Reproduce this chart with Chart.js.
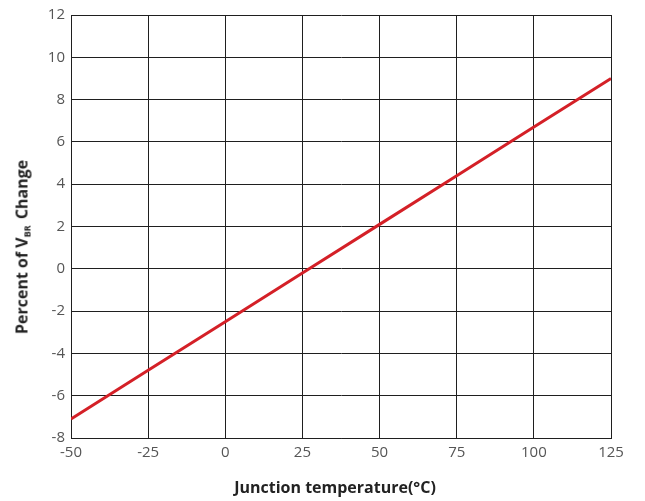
<!DOCTYPE html>
<html>
<head>
<meta charset="utf-8">
<script src="https://cdn.jsdelivr.net/npm/chart.js@4.4.0/dist/chart.umd.min.js"></script>
<style>
  html, body { margin: 0; padding: 0; background: #fff; }
  #wrap { position: relative; width: 645px; height: 501px; }
  .axis-title {
    position: absolute; white-space: nowrap;
    font: bold 16px "Open Sans", sans-serif; color: #222;
  }
  #ytitle { left: 22px; top: 247px; transform: translate(-50%, -50%) rotate(-90deg); }
  #ytitle sub { font-size: 9px; vertical-align: -3px; margin-right: 2px; }
  #xtitle { left: 335px; top: 487px; transform: translate(-50%, -50%); }
</style>
</head>
<body>
<div id="wrap">
  <canvas id="myChart"></canvas>
  <div id="ytitle" class="axis-title">Percent of V<sub>BR</sub> Change</div>
  <div id="xtitle" class="axis-title">Junction temperature(°C)</div>
</div>
<script>
// junction temperature (°C) and % change of V_BR
const temps = [-50, -25, 0, 25, 50, 75, 100, 125];
const vbrChange = [-7.1, -4.8, -2.5, -0.2, 2.1, 4.4, 6.7, 9.0];
const xTicks = [-50, -25, 0, 25, 50, 75, 100, 125];
const yTicks = [-8, -6, -4, -2, 0, 2, 4, 6, 8, 10, 12];

const gridColor = '#1f1f1f';
const tickFont = { family: '"Open Sans", sans-serif', size: 15 };

const ctx = document.getElementById('myChart');
ctx.width = 645;
ctx.height = 501;

new Chart(ctx, {
  type: 'line',
  data: {
    datasets: [{
      data: temps.map((t, i) => ({ x: t, y: vbrChange[i] })),
      borderColor: '#d42027',
      borderWidth: 3,
      pointRadius: 0,
      tension: 0
    }]
  },
  options: {
    responsive: false,
    animation: false,
    layout: { padding: { top: 13, right: 34, left: 0, bottom: 0 } },
    plugins: { legend: { display: false }, tooltip: { enabled: false } },
    scales: {
      x: {
        type: 'linear',
        min: -50, max: 125,
        afterBuildTicks: s => { s.ticks = xTicks.map(v => ({ value: v })); },
        afterFit: s => { s.height = 63; },
        grid: { color: gridColor, lineWidth: 1, drawTicks: false },
        border: { color: gridColor, width: 1 },
        ticks: { color: '#555', font: tickFont, padding: 6, maxRotation: 0 }
      },
      y: {
        min: -8, max: 12,
        afterBuildTicks: s => { s.ticks = yTicks.map(v => ({ value: v })); },
        afterFit: s => { s.width = 71; },
        grid: { color: gridColor, lineWidth: 1, drawTicks: false },
        border: { color: gridColor, width: 1 },
        ticks: { color: '#555', font: tickFont, padding: 6 }
      }
    }
  }
});
</script>
</body>
</html>
